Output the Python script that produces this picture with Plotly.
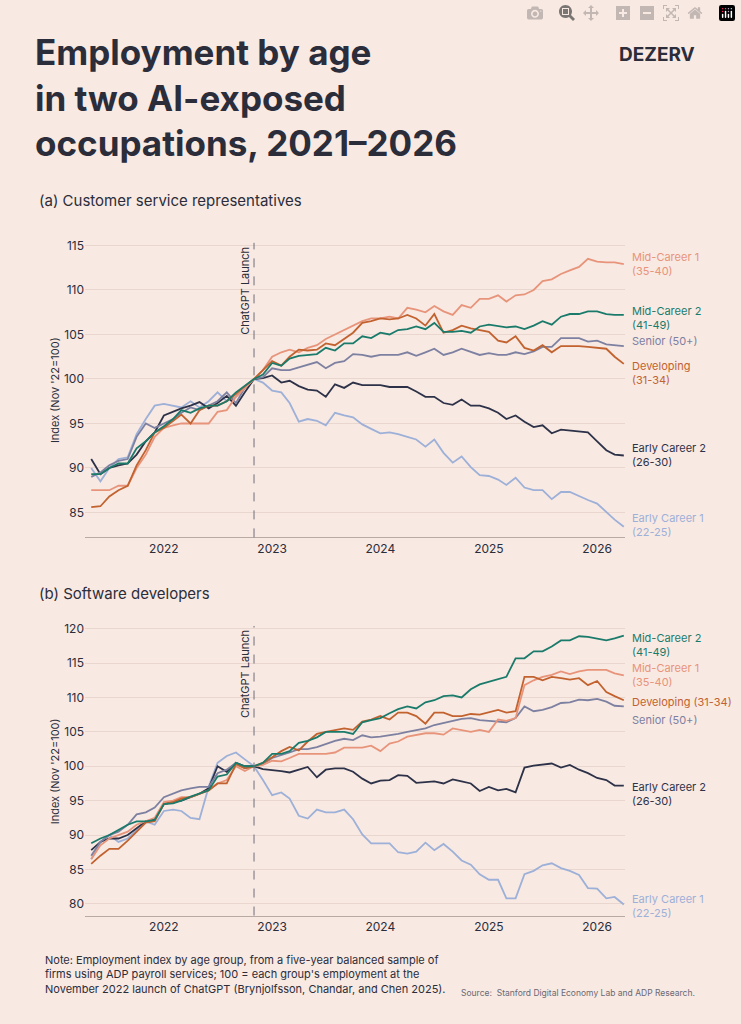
import pandas as pd
import plotly.graph_objects as go

dates = pd.date_range("2021-05-01", "2026-04-01", freq="MS")

# Panel (a) Customer service representatives
a_mid1 = [87.5,87.5,87.5,88,88,90,91.5,93.5,94.5,94.8,95,95,95,95,96.3,96.5,98,99,100,
          101,102.5,103,103.3,103,103.5,103.8,104.5,105,105.5,106,106.5,106.8,106.8,107,106.8,108,107.8,107.5,108.2,
          107.6,107.2,108.3,108,109,109,109.4,108.7,109.4,109.5,110,111,111.2,111.8,112.2,112.6,113.5,113.2,113.1,113.1,112.9]
a_mid2 = [89.3,89.3,90,90.5,90.5,92.2,93,94,94.7,95.5,96.5,96.2,96.7,97,97,97.5,98.5,99.2,100,
          100.5,101.8,101.5,102.3,102.6,102.7,102.8,103.5,103.2,104,104,104.8,104.6,105.2,105,105.5,105.6,105.9,105.6,106.3,
          105.3,105.3,105.4,105.2,105.9,106.1,105.9,105.8,105.9,105.6,106,106.5,106.1,107,107.3,107.3,107.6,107.6,107.3,107.2,107.2]
a_senior = [89,89.5,90.3,90.8,91,93.5,95,94.5,95,95.5,96.2,96.8,96.5,97,97.5,98.5,97.3,99,100,
            100.2,101.2,101,101,101.3,101.6,101.9,101.2,101.8,102,102.8,102.7,102.5,102.7,102.7,102.7,103,102.6,103,103.4,
            102.7,103,103.4,103,102.7,102.9,102.7,102.7,103,102.8,103.1,103.6,103.6,104.6,104.6,104.6,104.2,104.3,103.9,103.8,103.7]
a_dev = [85.6,85.7,86.8,87.5,88,90.3,92,94,94.5,95.3,96,95,96.5,97,97,97.5,98.3,99.2,100,
         101,102,101.5,102.5,103.3,103.2,103.3,104,103.8,104.5,105.2,106.3,106.5,106.8,106.7,106.8,107.2,106.8,106,107.3,
         105.2,105.5,106,105.7,105.5,105.3,104.3,104.1,104.8,103.5,103.2,103.8,103,103.7,103.7,103.7,103.6,103.5,103.4,102.5,101.7]
a_early2 = [91,89.3,90,90.3,90.5,91.5,93,94,95.9,96.3,96.7,97,97.4,96.7,97.3,98.1,97,98.5,100,
            100.1,100.4,99.6,99.8,99.2,98.8,98.7,98,99.4,99,99.6,99.3,99.3,99.3,99.1,99.1,99.1,98.6,98,98,
            97.3,97.1,97.7,97,97,96.7,96.2,95.5,95.9,95.2,94.6,94.8,93.9,94.3,94.2,94.1,94,93,92,91.5,91.4]
a_early1 = [90,88.5,90,91,91.2,93.8,95.5,97,97.2,97,96.8,97.5,96.8,97.5,98.5,97.5,98,99,100,
            99.6,98.7,98.5,97.3,95.2,95.5,95.3,94.8,96.2,95.9,95.7,94.9,94.4,93.9,94,93.8,93.5,93.2,92.4,93.2,
            91.7,90.6,91.3,90.1,89.2,89.1,88.7,88.1,88.9,87.8,87.5,87.5,86.5,87.3,87.3,86.8,86.4,86,85,84.2,83.4]

# Panel (b) Software developers
b_mid2 = [88.8,89.5,90,90.8,91.5,92,92,92.2,94.5,94.6,95,95.6,96,96.5,98.5,98.8,100.5,100,100,
          100.5,101.8,101.8,102.2,103.4,103.7,104.2,105,105,105,104.7,106.4,106.7,107,107.7,108.3,108.7,108.4,109.3,109.6,
          110.2,110.3,110,111.2,111.9,112.3,112.7,113,115.7,115.7,116.7,116.7,117.4,118.3,118.3,118.9,118.8,118.5,118.3,118.6,119]
b_mid1 = [86.5,88.5,89.5,90,90.5,91.5,92,92.5,94.8,95,95.5,95.5,96,96.5,97.5,98,100,99.3,100,
          100.2,100.8,100.7,101.2,101.8,101.8,101.8,101.8,102,102.7,102.7,102.7,103,102.2,103.3,103.6,104.3,104.6,104.8,104.8,
          104.6,105.5,105.3,105,105.3,105,106.8,106.6,107,111.8,112.5,113,113.3,113.8,113.4,113.8,114,114,114,113.5,113.2]
b_dev = [85.8,87,88,88,89.2,90.5,91.8,92,94.5,94.8,95.3,95.5,96,96.5,97.5,97.5,100.3,99.7,100,
         100.5,101.3,102.2,102.8,102.3,103.6,104.7,105,105.3,105.5,105.3,106.5,106.8,107.3,106.8,107.8,107.8,107.3,106.2,107.8,
         107.8,107.3,107.3,107.6,107.5,107.8,108.2,107.8,108,113,113,112.5,113,112.8,112.6,112.8,111.8,112.4,110.8,110.2,109.6]
b_senior = [87,89,90,90.5,91.5,93,93.3,94,95.5,96,96.5,96.8,97,97,99,99.5,100.5,99.7,100,
            100.3,101.2,101.6,102,102.5,102.5,102.8,103.3,103.7,104,103.8,104.5,104.2,104.3,104.5,104.7,105,105.3,105.5,106,
            106.3,106.6,106.9,107,106.7,106.6,106.5,106.4,107,108.7,108,108.2,108.6,109.2,109.3,109.7,109.6,109.8,109.4,108.8,108.7]
b_early2 = [87.8,89,89.5,89.5,90,91,92,92.3,94.5,94.8,95,95.5,96,96.8,100,99.2,100.5,100,100,
            99.6,99.5,99.3,99.1,99.5,99.9,98.4,99.5,99.7,99.7,99.2,98.2,97.5,97.9,98,98.7,98.6,97.6,97.7,97.8,
            97.5,98.1,97.8,97.5,96.4,97,96.5,96.7,96.2,99.8,100.1,100.3,100.4,99.8,100.2,99.5,99,98.3,98,97.2,97.2]
b_early1 = [86.5,89,90,89,89.5,90.8,92,91.5,93.5,93.7,93.5,92.5,92.3,97,100.5,101.5,102,101,100,
            98,95.8,96.2,95.3,92.8,92.4,93.7,93.3,93.3,93.7,92.3,90.1,88.8,88.8,88.8,87.5,87.3,87.6,88.9,87.8,
            88.7,87.6,86.3,85.7,84.3,83.5,83.5,80.8,80.8,84.3,84.8,85.6,85.9,85.2,84.8,84.2,82.3,82.2,80.8,81,79.9]

tick_years = ["2022", "2023", "2024", "2025", "2026"]
a_yticks = [85, 90, 95, 100, 105, 110, 115]
b_yticks = [80, 85, 90, 95, 100, 105, 110, 115, 120]

C = {"mid1": "#e8947a", "mid2": "#1b7b6b", "senior": "#7d80a0",
     "dev": "#c2622f", "early2": "#2d3248", "early1": "#9db0d8"}
BG = "#f8e9e3"
INK = "#2b2d3a"

fig = go.Figure()
panel_a = [("early1", a_early1), ("early2", a_early2), ("senior", a_senior),
           ("mid1", a_mid1), ("dev", a_dev), ("mid2", a_mid2)]
panel_b = [("early1", b_early1), ("early2", b_early2), ("senior", b_senior),
           ("mid1", b_mid1), ("dev", b_dev), ("mid2", b_mid2)]
for k, v in panel_a:
    fig.add_trace(go.Scatter(x=dates, y=v, mode="lines", line=dict(color=C[k], width=1.8),
                             xaxis="x", yaxis="y", showlegend=False))
for k, v in panel_b:
    fig.add_trace(go.Scatter(x=dates, y=v, mode="lines", line=dict(color=C[k], width=1.8),
                             xaxis="x2", yaxis="y2", showlegend=False))

H = 1024.0
def py(p):
    return 1 - p / H

xd = [85 / 741, 625 / 741]
xrange_ = ["2021-04-10", "2026-04-05"]
tickvals = [f"{y}-01-01" for y in tick_years]
xcommon = dict(range=xrange_, domain=xd, tickvals=tickvals, ticktext=tick_years, showgrid=False,
               showline=True, linecolor="#b9aaa5", linewidth=1, ticks="", zeroline=False,
               tickfont=dict(family="Inter", size=12, color=INK))
ycommon = dict(showgrid=True, gridcolor="#e8d6cf", gridwidth=1, zeroline=False,
               showline=False, ticks="", tickfont=dict(family="Inter", size=12, color=INK))

fig.update_layout(
    width=741, height=1024, margin=dict(l=0, r=0, t=0, b=0),
    paper_bgcolor=BG, plot_bgcolor=BG,
    xaxis=dict(**xcommon, anchor="y"),
    yaxis={**ycommon, "domain": [py(535), py(239)], "range": [82.2, 115.3], "tickvals": a_yticks, "anchor": "x"},
    xaxis2=dict(**xcommon, anchor="y2"),
    yaxis2={**ycommon, "domain": [py(915), py(624)], "range": [78.3, 120.4], "tickvals": b_yticks, "anchor": "x2"},
)

for xr, yr in [("x", "y"), ("x2", "y2")]:
    fig.add_shape(type="line", xref=xr, yref=f"{yr} domain", x0="2022-11-01", x1="2022-11-01",
                  y0=0, y1=1, line=dict(color="#6f6f7a", width=1, dash="dash"))
    fig.add_annotation(xref=xr, yref=f"{yr} domain", x="2022-11-01", y=1, xshift=-9, yshift=-2,
                       text="ChatGPT Launch", textangle=-90, showarrow=False, xanchor="center", yanchor="top",
                       font=dict(family="Inter", size=11, color=INK))

def lab(text, yv, color, yr):
    fig.add_annotation(xref="paper", yref=yr, x=630 / 741, y=yv, text=text, showarrow=False,
                       xanchor="left", yanchor="middle", align="left",
                       font=dict(family="Inter", size=11, color=color))

lab("Mid-Career 1<br>(35-40)", 112.9, C["mid1"], "y")
lab("Mid-Career 2<br>(41-49)", 106.9, C["mid2"], "y")
lab("Senior (50+)", 104.25, C["senior"], "y")
lab("Developing<br>(31-34)", 100.7, C["dev"], "y")
lab("Early Career 2<br>(26-30)", 91.5, C["early2"], "y")
lab("Early Career 1<br>(22-25)", 83.6, C["early1"], "y")
lab("Mid-Career 2<br>(41-49)", 117.7, C["mid2"], "y2")
lab("Mid-Career 1<br>(35-40)", 113.2, C["mid1"], "y2")
lab("Developing (31-34)", 109.4, C["dev"], "y2")
lab("Senior (50+)", 106.8, C["senior"], "y2")
lab("Early Career 2<br>(26-30)", 95.9, C["early2"], "y2")
lab("Early Career 1<br>(22-25)", 79.7, C["early1"], "y2")

def txt(text, x, y, size, color=INK, anchor="left", yanchor="top", angle=0):
    fig.add_annotation(xref="paper", yref="paper", x=x / 741, y=py(y), text=text, showarrow=False,
                       xanchor=anchor, yanchor=yanchor, align=anchor if anchor != "center" else "center",
                       textangle=angle, font=dict(family="Inter", size=size, color=color))

txt("<b>Employment by age<br>in two AI-exposed<br>occupations, 2021–2026</b>", 33, 24, 35)
txt("<b>DEZERV</b>", 697, 36, 19, anchor="right")
txt("(a) Customer service representatives", 37, 185, 15)
txt("(b) Software developers", 37, 580, 15)
txt("Index (Nov '22=100)", 55, 387, 11, anchor="center", yanchor="middle", angle=-90)
txt("Index (Nov '22=100)", 55, 770, 11, anchor="center", yanchor="middle", angle=-90)
txt("Note: Employment index by age group, from a five-year balanced sample of<br>"
    "firms using ADP payroll services; 100 = each group's employment at the<br>"
    "November 2022 launch of ChatGPT (Brynjolfsson, Chandar, and Chen 2025).", 43, 951, 11)
txt("Source:  Stanford Digital Economy Lab and ADP Research.", 697, 986, 8.5, color="#6a6a74", anchor="right")

fig.write_html("out.html")
with open("out.html", encoding="utf-8") as f:
    html = f.read()
html = html.replace("<body>", '<body style="margin:0;padding:0;background:#f8e9e3">', 1)
with open("out.html", "w", encoding="utf-8") as f:
    f.write(html)
